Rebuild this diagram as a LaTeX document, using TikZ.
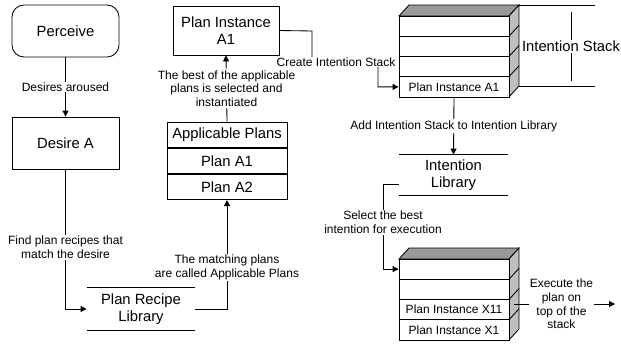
\documentclass[tikz,border=0pt]{standalone}
\usepackage{fontspec}
\setmainfont{Liberation Sans}
\usetikzlibrary{arrows.meta}
\begin{document}
\begin{tikzpicture}[x=1pt,y=-1pt,
  line width=0.85pt,
  arr/.style={-{Triangle[length=6pt,width=6pt]}},
  boxtext/.style={font=\fontsize{14.8}{16.5}\selectfont, align=center},
  box/.style={draw, boxtext, inner sep=0pt},
  lbl/.style={font=\fontsize{12}{13.8}\selectfont, align=center, fill=white, inner sep=1pt},
  rowtext/.style={font=\fontsize{12}{13.8}\selectfont, draw, fill=white, inner sep=0pt, minimum width=110pt, minimum height=20.25pt},
  topface/.style={draw, fill=black!40},
  sideface/.style={draw, fill=black!25},
]
\useasboundingbox (0,0) rectangle (621,343);

% left column
\node[box, rounded corners=12pt, minimum width=107pt, minimum height=52pt] (perc) at (65.5,31) {Perceive};
\node[box, minimum width=107pt, minimum height=52pt] (des) at (65.5,143) {Desire A};
\node[boxtext, minimum width=108pt, minimum height=42pt, inner sep=0pt] (prl) at (141,309) {Plan Recipe\\Library};
\draw (prl.north west) -- (prl.north east);
\draw (prl.south west) -- (prl.south east);

% middle column
\node[box, minimum width=106pt, minimum height=49pt] (pia) at (226,30.5) {Plan Instance\\A1};
\node[box, minimum width=120pt, minimum height=25.3pt] (ap) at (227,134.7) {Applicable Plans};
\node[box, minimum width=120pt, minimum height=25.3pt, anchor=north] (pa1) at (ap.south) {Plan A1};
\node[box, minimum width=120pt, minimum height=25.3pt, anchor=north] (pa2) at (pa1.south) {Plan A2};

% intention stack (top right)
\draw[topface] (399,16) -- (409,5) -- (519,5) -- (509,16) -- cycle;
\draw[sideface] (509,16) -- (519,5) -- (519,86) -- (509,97) -- cycle;
\foreach \yy in {36.25,56.5,76.75} \draw (509,\yy) -- (519,\yy-11);
\node[rowtext] (s1r1) at (454,26.125) {};
\node[rowtext] (s1r2) at (454,46.375) {};
\node[rowtext] (s1r3) at (454,66.625) {};
\node[rowtext] (s1r4) at (454,86.875) {Plan Instance A1};

\draw (519,5) -- (595,5);
\draw (519,86) -- (595,86);
\draw (571,12) -- node[lbl, font=\fontsize{14.8}{16.5}\selectfont] {Intention Stack} (571,81);

% intention library
\node[boxtext, minimum width=109pt, minimum height=40pt, inner sep=0pt] (il) at (453.5,175) {Intention\\Library};
\draw (il.north west) -- (il.north east);
\draw (il.south west) -- (il.south east);

% intention stack (bottom right)
\draw[topface] (399,259) -- (409,248) -- (519,248) -- (509,259) -- cycle;
\draw[sideface] (509,259) -- (519,248) -- (519,329) -- (509,340) -- cycle;
\foreach \yy in {279.25,299.5,319.75} \draw (509,\yy) -- (519,\yy-11);
\node[rowtext] (s2r1) at (454,269.125) {};
\node[rowtext] (s2r2) at (454,289.375) {};
\node[rowtext] (s2r3) at (454,309.625) {Plan Instance X11};
\node[rowtext] (s2r4) at (454,329.875) {Plan Instance X1};
\coordinate (exS) at (514,304);
\coordinate (exE) at (615,304);

% connectors
\draw[arr] (perc) -- node[lbl] {Desires aroused} (des);
\draw[arr] (des.south) |- node[lbl, pos=0.28] {Find plan recipes that\\match the desire} (prl.west);
\draw[arr] (prl.east) -| node[lbl, pos=0.69] {The matching plans\\are called Applicable Plans} (pa2.south);
\draw[arr] (ap.north) -- node[lbl, pos=0.5] {The best of the applicable\\plans is selected and\\instantiated} (pia.south);
\draw[arr] (pia.east) -- (312,31) -- (312,62) -- (378,62) -- (378,86.875) -- (s1r4.west);
\node[lbl] (cis) at (336,62) {Create Intention Stack};
\draw[arr] (s1r4.south) -- node[lbl] {Add Intention Stack to Intention Library} (il.north);
\draw[arr] ([yshift=-9pt]il.west) -- (383,184) -- node[lbl, pos=0.45] {Select the best\\intention for execution} (383,269.125) -- (s2r1.west);
\draw[arr] (exS) -- node[lbl, pos=0.47] {Execute the\\plan on\\top of the\\stack} (exE);
\end{tikzpicture}
\end{document}
